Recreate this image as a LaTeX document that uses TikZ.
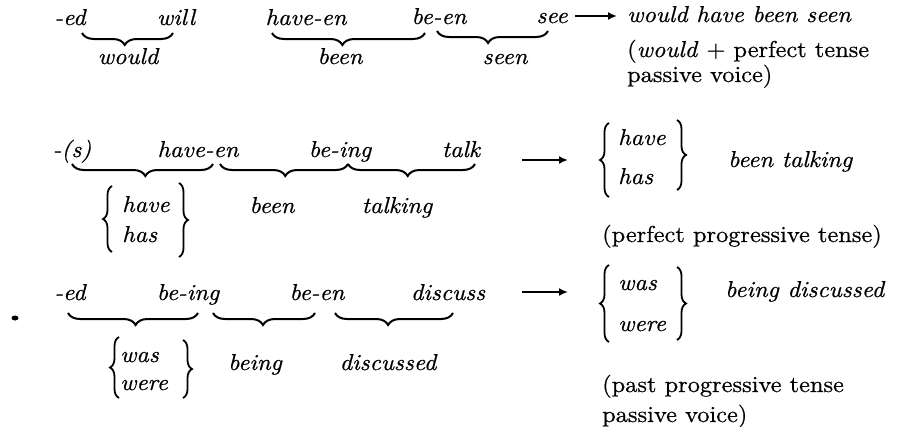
\documentclass[tikz,border=0pt]{standalone}
\usepackage{fontspec}
\setmainfont{lmroman10-regular.otf}[ItalicFont=lmroman10-italic.otf,FakeStretch=1.06,FakeBold=0.6]
\usetikzlibrary{decorations.pathreplacing,arrows.meta}
\begin{document}
\begin{tikzpicture}[x=1pt,y=-1pt,
  every node/.style={inner sep=0pt,font=\fontsize{23}{27}\selectfont},
  wd/.style={font=\fontsize{23}{27}\selectfont\itshape,anchor=base},
  wdl/.style={font=\fontsize{23}{27}\selectfont\itshape,anchor=base west},
  rml/.style={font=\fontsize{23}{27}\selectfont,anchor=base west},
  ubr/.style={decorate,decoration={brace,mirror,amplitude=12pt,aspect=#1},line width=2pt},
  vbr/.style={decorate,decoration={brace,amplitude=9pt},line width=1.8pt},
  arr/.style={-{Latex[length=9pt,width=8pt]},line width=1.7pt}]
\useasboundingbox (0,0) rectangle (899,426);

% ---------- Row 1 ----------
\node[wd] (r1ed) at (70,25) {-ed};
\node[wd] (r1will) at (176,25) {will};
\node[wd] (r1have) at (306,25) {have-en};
\node[wd] (r1been) at (439,24) {be-en};
\node[wd] (r1see) at (552,23) {see};
\node[wd] (r1would) at (128,64) {would};
\node[wd] (r1beenb) at (340,64) {been};
\node[wd] (r1seen) at (505,64) {seen};
\coordinate (b11a) at (82,33);  \coordinate (b11b) at (173,33);
\coordinate (b12a) at (272,33); \coordinate (b12b) at (425,33);
\coordinate (b13a) at (437,31); \coordinate (b13b) at (548,31);
\draw[ubr=.47] (b11a) -- (b11b);
\draw[ubr=.46] (b12a) -- (b12b);
\draw[ubr=.46] (b13a) -- (b13b);
\coordinate (a1s) at (575,16); \coordinate (a1e) at (617,16);
\draw[arr] (a1s) -- (a1e);
\node[wdl] (r1res) at (627,22) {would have been seen};
\node[rml] (r1c1) at (627,57) {(\textit{would} + perfect tense};
\node[rml] (r1c2) at (627,82) {passive voice)};

% ---------- Row 2 ----------
\node[wd] (r2s) at (72,157) {-(s)};
\node[wd] (r2have) at (198,157) {have-en};
\node[wd] (r2being) at (340,157) {be-ing};
\node[wd] (r2talk) at (461,157) {talk};
\coordinate (b21a) at (72,164);  \coordinate (b21b) at (213,164);
\coordinate (b22a) at (220,164); \coordinate (b22b) at (348,164);
\coordinate (b23a) at (348,164); \coordinate (b23b) at (475,164);
\draw[ubr=.52] (b21a) -- (b21b);
\draw[ubr=.51] (b22a) -- (b22b);
\draw[ubr=.47] (b23a) -- (b23b);
\node[wdl] (r2lhave) at (122,212) {have};
\node[wdl] (r2lhas) at (122,242) {has};
\coordinate (v21a) at (112,252); \coordinate (v21b) at (112,186);
\coordinate (v22a) at (179,183); \coordinate (v22b) at (179,257);
\draw[vbr] (v21a) -- (v21b);
\draw[vbr] (v22a) -- (v22b);
\node[wd] (r2lbeen) at (272,213) {been};
\node[wd] (r2ltalking) at (397,213) {talking};
\coordinate (a2s) at (522,160); \coordinate (a2e) at (568,160);
\draw[arr] (a2s) -- (a2e);
\node[wdl] (r2rhave) at (618,145) {have};
\node[wdl] (r2rhas) at (618,184) {has};
\coordinate (v23a) at (609,197); \coordinate (v23b) at (609,123);
\coordinate (v24a) at (677,120); \coordinate (v24b) at (677,190);
\draw[vbr] (v23a) -- (v23b);
\draw[vbr] (v24a) -- (v24b);
\node[wdl] (r2res) at (728,167) {been talking};
\node[rml] (r2c) at (602,242) {(perfect progressive tense)};

% ---------- Row 3 ----------
\fill (15,318) ellipse (3.5pt and 2.5pt);
\node[wd] (r3ed) at (70,300) {-ed};
\node[wd] (r3being) at (188,300) {be-ing};
\node[wd] (r3been) at (317,300) {be-en};
\node[wd] (r3disc) at (448,300) {discuss};
\coordinate (b31a) at (68,313);  \coordinate (b31b) at (198,313);
\coordinate (b32a) at (213,313); \coordinate (b32b) at (315,313);
\coordinate (b33a) at (335,313); \coordinate (b33b) at (453,313);
\draw[ubr=.52] (b31a) -- (b31b);
\draw[ubr=.49] (b32a) -- (b32b);
\draw[ubr=.45] (b33a) -- (b33b);
\node[wdl] (r3lwas) at (120,362) {was};
\node[wdl] (r3lwere) at (120,390) {were};
\coordinate (v31a) at (119,398); \coordinate (v31b) at (119,337);
\coordinate (v32a) at (183,340); \coordinate (v32b) at (183,398);
\draw[vbr] (v31a) -- (v31b);
\draw[vbr] (v32a) -- (v32b);
\node[wd] (r3lbeing) at (255,370) {being};
\node[wd] (r3ldisc) at (388,370) {discussed};
\coordinate (a3s) at (522,292); \coordinate (a3e) at (568,292);
\draw[arr] (a3s) -- (a3e);
\node[wdl] (r3rwas) at (618,290) {was};
\node[wdl] (r3rwere) at (618,331) {were};
\coordinate (v33a) at (609,342); \coordinate (v33b) at (609,265);
\coordinate (v34a) at (677,267); \coordinate (v34b) at (677,340);
\draw[vbr] (v33a) -- (v33b);
\draw[vbr] (v34a) -- (v34b);
\node[wdl] (r3res) at (725,297) {being discussed};
\node[rml] (r3c1) at (602,392) {(past progressive tense};
\node[rml] (r3c2) at (602,422) {passive voice)};
\end{tikzpicture}
\end{document}
